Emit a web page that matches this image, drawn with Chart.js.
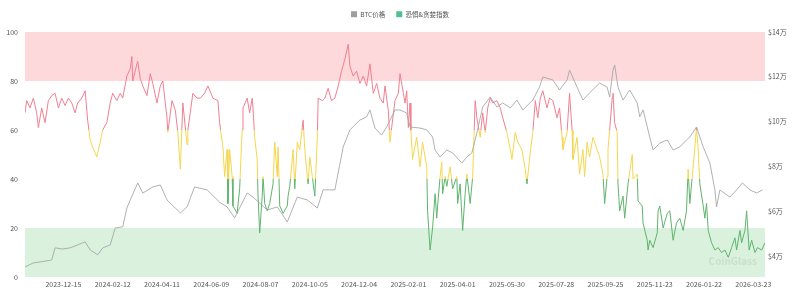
<!DOCTYPE html>
<html>
<head>
<meta charset="utf-8">
<script src="https://cdn.jsdelivr.net/npm/chart.js@4.4.1/dist/chart.umd.min.js"></script>
<style>
html,body{margin:0;padding:0;background:#fff;}
#wrap{width:800px;height:292px;}
</style>
</head>
<body>
<div id="wrap"><canvas id="c" width="800" height="292"></canvas></div>
<script>
// ---- data (x = position on the daily category axis, first point = 2023-10-30) ----
const tickIdx = [46,105,164,223,282,341,400,459,518,577,636,695,754,813,872];
const tickLabels = ['2023-12-15','2024-02-12','2024-04-11','2024-06-09','2024-08-07','2024-10-05','2024-12-04','2025-02-01','2025-04-01','2025-05-30','2025-07-28','2025-09-25','2025-11-23','2026-01-22','2026-03-23'];
const lastIdx = 886;

const fgIdx = [0,2,6,10,14,16,20,24,28,32,36,40,44,48,52,56,60,63,68,72,75,78,81,86,90,93,98,102,105,110,114,117,122,126,128,129,134,135,138,141,146,150,153,158,162,165,170,171,176,180,183,186,189,194,195,201,206,210,215,219,225,231,233,237,239,242,243,245,248,249,254,257,260,261,266,269,272,273,275,278,279,281,284,285,287,290,293,297,299,302,303,305,309,314,315,317,321,323,326,329,332,333,335,338,339,341,344,347,350,351,356,359,363,367,371,375,379,383,387,389,393,397,401,405,409,413,417,421,425,429,431,435,437,439,443,447,449,453,455,457,459,461,462,464,469,473,476,481,482,485,488,491,493,494,497,499,500,503,505,509,512,517,518,521,524,527,529,533,536,539,541,545,548,551,554,557,560,565,569,572,577,581,583,587,590,595,599,601,605,608,611,614,617,620,625,628,632,637,640,643,644,649,652,655,656,661,664,668,670,673,676,680,685,688,692,694,697,698,700,703,704,706,709,710,712,716,718,722,727,728,733,734,739,740,745,746,748,752,757,758,760,764,769,772,776,780,784,788,792,794,796,800,804,806,808,812,814,816,818,822,826,830,834,838,842,846,850,852,856,858,862,864,867,870,874,877,882,886];
const fgVal = [67,72,69,73,67,61,69,63,72,74,75,69,73,70,73,71,67,71,73,76,64,56,53,49,55,60,63,71,75,72,75,73,82,85,90,80,87,88,81,78,74,83,79,71,78,80,65,59,72,68,59,44,71,54,60,75,73,73,75,78,73,72,63,53,41,52,30,52,41,29,26,36,60,69,73,67,73,69,57,48,33,18,33,41,30,27,30,38,55,41,53,29,26,29,33,37,52,36,55,52,61,64,52,41,38,49,41,33,57,73,72,73,77,72,73,78,84,89,95,86,82,84,79,82,78,87,75,79,73,71,78,68,55,61,72,75,83,75,71,76,61,71,60,48,57,45,55,45,27,11,20,34,24,29,41,47,34,41,37,45,36,41,30,38,19,34,42,30,41,72,65,57,67,59,69,73,71,72,69,65,59,52,48,59,55,52,44,38,51,59,72,65,73,76,69,73,72,65,69,57,52,59,75,60,48,57,42,52,41,55,49,57,52,49,42,30,41,52,60,73,75,63,59,38,27,33,24,38,50,40,42,31,29,22,15,11,15,12,18,27,29,20,26,27,15,22,24,19,27,44,30,45,61,52,38,29,24,30,19,14,11,12,10,11,8,12,16,11,19,14,19,27,11,15,10,12,11,14];

const btcIdx = [0,10,18,32,36,45,54,63,72,78,87,93,102,108,117,122,126,135,141,153,162,170,186,194,203,218,233,242,251,266,273,290,302,314,326,338,350,357,371,381,389,401,409,413,419,427,433,443,449,457,461,473,481,488,491,497,505,512,523,529,535,541,548,557,565,572,581,589,596,608,616,620,632,640,649,652,661,668,676,688,697,700,704,706,710,716,724,733,736,740,748,752,760,769,776,784,792,796,804,812,820,826,828,832,844,852,859,868,876,883];
const btcVal = [35100,36900,37300,38200,43600,43100,43600,44900,46300,42700,40500,43600,44900,52500,53000,61400,65000,72600,68100,70800,71700,65000,59200,61900,70800,69500,64000,61900,57000,68100,66300,60500,61900,55200,66300,65000,61400,69500,69500,88700,96300,100700,102100,105200,97100,94000,97600,105200,105200,103800,97600,97100,96300,93100,87300,84200,87300,86000,81500,84200,86000,94900,106500,111000,106500,108300,106100,109600,105200,109600,115400,119900,118600,114100,118600,123000,115400,109600,112800,117200,115400,111000,123000,125300,115400,109600,114100,108300,102100,105200,93100,87300,90400,91800,87300,88700,91800,93100,97600,88700,81500,69500,61900,69500,66300,69500,72600,69500,68100,69500];

const leftTicks = [0,20,40,60,80,100];
const rightTicks = [40000,60000,80000,100000,120000,140000];
const zones = [{from:80,to:100,color:'#fdd9db'},{from:0,to:20,color:'#d9f1dd'}];

// ---- styles ----
const FONT = "'Noto Sans CJK SC','Noto Sans',sans-serif";
const RED = '#f07f91', YELLOW = '#f4d64e', GREEN = '#5fb36d', GRAY = '#a8a8a8';
const LEGEND_EXTRA = 4.5;

const zonePlugin = {
  id:'zones',
  beforeLayout(chart){
    const lg = chart.legend;
    if (lg && !lg._patched){
      const f = lg.fit;
      lg.fit = function(){ f.call(this); this.height += LEGEND_EXTRA; };
      lg._patched = true;
    }
  },
  beforeDatasetsDraw(chart){
    const {ctx, chartArea:a, scales:{y}} = chart;
    ctx.save();
    zones.forEach(z=>{
      const t = y.getPixelForValue(z.to), b = y.getPixelForValue(z.from);
      ctx.fillStyle = z.color;
      ctx.fillRect(a.left, t, a.right - a.left, b - t);
    });
    ctx.restore();
  },
  afterDatasetsDraw(chart){
    const {ctx, chartArea:a} = chart;
    ctx.save();
    ctx.font = "bold 10px " + FONT;
    ctx.fillStyle = 'rgba(120,120,120,0.15)';
    ctx.textAlign = 'right';
    ctx.textBaseline = 'middle';
    ctx.fillText('CoinGlass', a.right - 8, a.bottom - 16);
    ctx.restore();
  }
};

function fgGradient(c){
  const chart = c.chart;
  if (!chart.chartArea) return RED;
  const y = chart.scales.y;
  const g = chart.ctx.createLinearGradient(0, y.getPixelForValue(0), 0, y.getPixelForValue(100));
  g.addColorStop(0, GREEN); g.addColorStop(0.4, GREEN);
  g.addColorStop(0.4, YELLOW); g.addColorStop(0.6, YELLOW);
  g.addColorStop(0.6, RED); g.addColorStop(1, RED);
  return g;
}

new Chart(document.getElementById('c'), {
  type:'line',
  data:{
    datasets:[
      {label:'BTC价格', data: btcIdx.map((x,i)=>({x, y:btcVal[i]})), yAxisID:'y1',
       borderColor:GRAY, borderWidth:0.9, pointRadius:0, tension:0, fill:false},
      {label:'恐惧&贪婪指数', data: fgIdx.map((x,i)=>({x, y:fgVal[i]})), yAxisID:'y',
       borderColor:fgGradient, borderWidth:1, pointRadius:0, tension:0, fill:false}
    ]
  },
  options:{
    responsive:false, animation:false, devicePixelRatio:1,
    layout:{padding:{top:0,left:0,right:0,bottom:0}},
    plugins:{
      tooltip:{enabled:false},
      legend:{
        position:'top', align:'center',
        labels:{
          font:{family:FONT,size:6.5}, color:'#555', boxWidth:6, boxHeight:6, padding:11,
          generateLabels:()=>[
            {text:'BTC价格', fillStyle:'#9e9e9e', strokeStyle:'#9e9e9e', lineWidth:0, datasetIndex:0, fontColor:'#555'},
            {text:'恐惧&贪婪指数', fillStyle:'#4fc08d', strokeStyle:'#4fc08d', lineWidth:0, datasetIndex:1, fontColor:'#555'}
          ]
        }
      }
    },
    scales:{
      x:{type:'linear', min:0, max:lastIdx,
         grid:{display:false, drawTicks:false}, border:{display:false},
         afterBuildTicks:(s)=>{ s.ticks = tickIdx.map(v=>({value:v})); },
         afterFit:(s)=>{ s.height = 15; },
         ticks:{autoSkip:false, maxRotation:0, padding:3, color:'#555',
                font:{family:FONT,size:7},
                callback:(v,i)=>tickLabels[i]}
      },
      y:{position:'left', min:0, max:100,
         grid:{display:false, drawTicks:false}, border:{display:false},
         afterBuildTicks:(s)=>{ s.ticks = leftTicks.map(v=>({value:v})); },
         afterFit:(s)=>{ s.width = 25; },
         ticks:{padding:7, color:'#555', font:{family:FONT,size:7}}
      },
      y1:{position:'right', min:30600, max:140000,
         grid:{display:false, drawTicks:false}, border:{display:false},
         afterBuildTicks:(s)=>{ s.ticks = rightTicks.map(v=>({value:v})); },
         afterFit:(s)=>{ s.width = 35; },
         ticks:{padding:3, color:'#555', font:{family:FONT,size:7},
                callback:(v)=>'$' + (v/10000) + '万'}
      }
    }
  },
  plugins:[zonePlugin]
});
</script>
</body>
</html>
